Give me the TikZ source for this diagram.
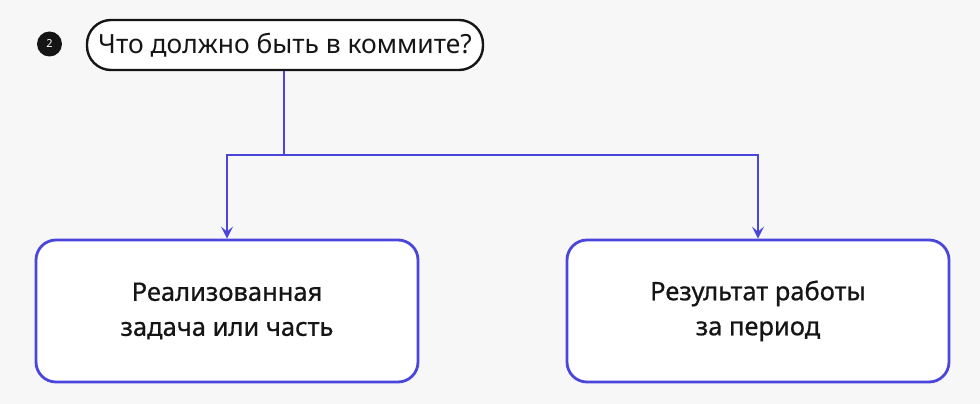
\documentclass[tikz,border=0pt]{standalone}
\usepackage{fontspec}
\setmainfont{Noto Sans}
\newfontfamily\medfont[FakeBold=0.7]{Noto Sans}
\usetikzlibrary{arrows.meta}
\definecolor{bg}{HTML}{F7F7F7}
\definecolor{blu}{HTML}{4A46DC}
\definecolor{ink}{HTML}{151515}
\tikzset{
  x=1pt, y=-1pt,
  pill/.style={draw=ink, line width=2.4pt, rounded corners=24pt, fill=white, minimum width=396pt, minimum height=50pt, inner sep=0pt, font=\fontsize{26.4}{32}\selectfont, text=ink},
  card/.style={draw=blu, line width=2.8pt, rounded corners=20pt, fill=white, minimum width=382pt, minimum height=142pt, align=center, inner sep=0pt, font=\medfont\fontsize{25.5}{35}\selectfont, text=ink},
  link/.style={draw=blu, line width=2.8pt, -{Stealth[length=12pt,width=12pt,inset=5pt]}},
  badge/.style={circle, fill=ink, minimum size=25pt, inner sep=0pt, text=white, font=\bfseries\fontsize{11}{12}\selectfont}
}
\begin{document}
\begin{tikzpicture}
\fill[bg] (0,0) rectangle (980,404);
\useasboundingbox (0,0) rectangle (980,404);
\node[badge] (num) at (49.5,44) {2};
\node[pill] (q) at (285,45) {Что должно быть в коммите?};
\node[card] (a) at (227,311) {Реализованная\\задача или часть};
\node[card] (b) at (758,311) {Результат работы\\за период};
\coordinate (j) at (284,155);
\coordinate (jl) at (227,155);
\coordinate (jr) at (758,155);
\draw[blu, line width=2.8pt] (q.south -| j) -- (j);
\draw[link] (j) -- (jl) -- (a.north);
\draw[link] (j) -- (jr) -- (b.north);
\end{tikzpicture}
\end{document}
